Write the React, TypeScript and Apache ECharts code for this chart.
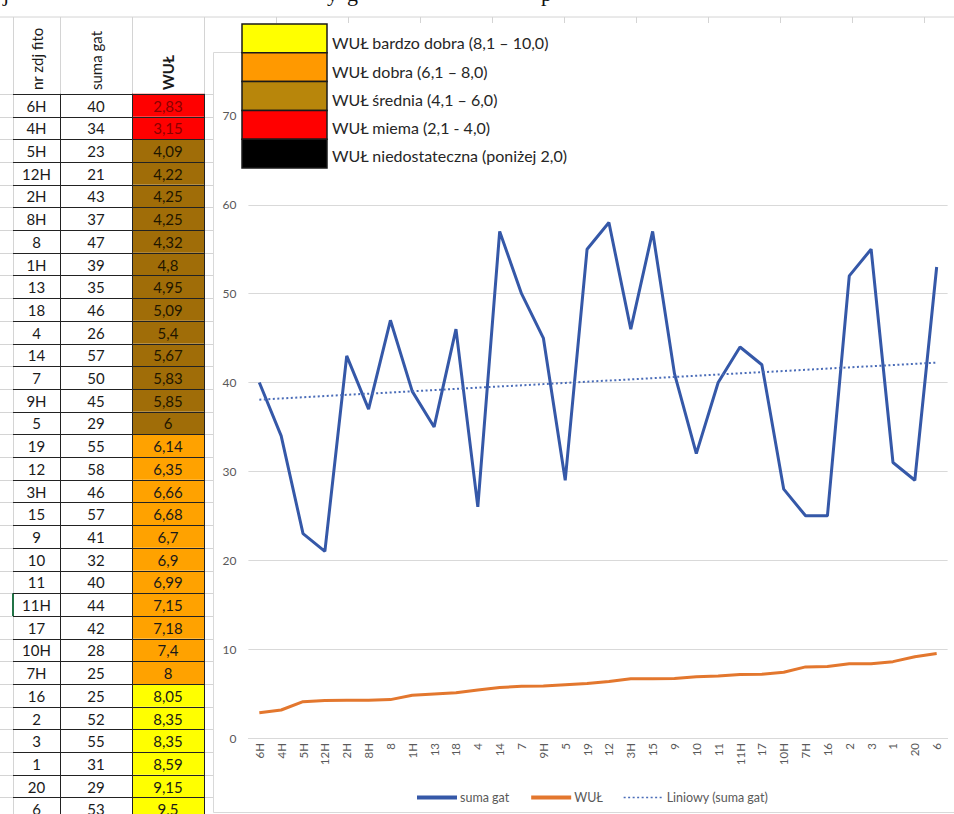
import React, { useEffect, useRef } from "react";
import * as echarts from "echarts";

// ---- data ----
const plotIds = ["6H","4H","5H","12H","2H","8H","8","1H","13","18","4","14","7","9H","5","19","12","3H","15","9","10","11","11H","17","10H","7H","16","2","3","1","20","6"];
const sumaGat = [40,34,23,21,43,37,47,39,35,46,26,57,50,45,29,55,58,46,57,41,32,40,44,42,28,25,25,52,55,31,29,53];
const wul = [2.83,3.15,4.09,4.22,4.25,4.25,4.32,4.8,4.95,5.09,5.4,5.67,5.83,5.85,6,6.14,6.35,6.66,6.68,6.7,6.9,6.99,7.15,7.18,7.4,8,8.05,8.35,8.35,8.59,9.15,9.5];
const tableHeaders = ["nr zdj fito", "suma gat", "WUŁ"];
const seriesNames = ["suma gat", "WUŁ", "Liniowy (suma gat)"];
const classLabels = [
  "WUŁ bardzo dobra (8,1 – 10,0)",
  "WUŁ dobra (6,1 – 8,0)",
  "WUŁ średnia (4,1 – 6,0)",
  "WUŁ miema (2,1 - 4,0)",
  "WUŁ niedostateczna (poniżej 2,0)",
];
const classLowerBounds = [8, 6, 4, 2, -Infinity];
const classColors = ["#FFFF00", "#FF9900", "#B8860B", "#FF0000", "#000000"];
const cellColors = ["#FFFF00", "#FFA200", "#A06D08", "#FF0000", "#000000"];
const cellTextColors = ["#1a1a1a", "#1a1a1a", "#1f1600", "#8B0000", "#ffffff"];
const yMin = 0, yMax = 70, yStep = 10;

const FONT = "Lato, 'Open Sans', sans-serif";

function classOf(v: number) {
  for (let k = 0; k < classLowerBounds.length; k++) if (v > classLowerBounds[k]) return k;
  return classLowerBounds.length - 1;
}
function fmt(v: number) {
  return String(v).replace(".", ",");
}
function linearTrend(ys: number[]) {
  const n = ys.length;
  const xs = ys.map((_, i) => i + 1);
  const mx = xs.reduce((a, b) => a + b, 0) / n;
  const my = ys.reduce((a, b) => a + b, 0) / n;
  let sxy = 0, sxx = 0;
  for (let i = 0; i < n; i++) {
    sxy += (xs[i] - mx) * (ys[i] - my);
    sxx += (xs[i] - mx) * (xs[i] - mx);
  }
  const b = sxy / sxx;
  const a = my - b * mx;
  return xs.map((x) => +(a + b * x).toFixed(3));
}

function buildGraphics() {
  const g: any[] = [];
  const GRID = "#D4D4D4";
  const colX = [13, 60, 132, 204];
  const headTop = 17;
  const bodyTop = 93.8;
  const rowH = 22.7;
  const nRows = plotIds.length;
  const bodyBottom = bodyTop + nRows * rowH;

  // top cut-off serif text (descenders of a document line above the picture)
  const serifBits = [
    { t: "j", x: 3 },
    { t: "y", x: 327 },
    { t: "g", x: 347 },
    { t: "p", x: 541 },
  ];
  serifBits.forEach((s) =>
    g.push({
      type: "text", x: s.x, y: -7, z: 1,
      style: { text: s.t, fontSize: 22, fontFamily: "'Liberation Serif', serif", fill: "#111", align: "left", verticalAlign: "middle" },
    })
  );

  // spreadsheet gridlines
  g.push({ type: "line", shape: { x1: 0, y1: headTop, x2: 954, y2: headTop }, style: { stroke: GRID, lineWidth: 1 } });
  for (let i = 0; i <= nRows; i++) {
    const y = Math.round(bodyTop + i * rowH) + 0.5;
    g.push({ type: "line", shape: { x1: 0, y1: y, x2: 13, y2: y }, style: { stroke: GRID, lineWidth: 1 } });
    g.push({ type: "line", shape: { x1: 204, y1: y, x2: 213, y2: y }, style: { stroke: GRID, lineWidth: 1 } });
  }
  g.push({ type: "line", shape: { x1: 13.5, y1: headTop, x2: 13.5, y2: 814 }, style: { stroke: GRID, lineWidth: 1 } });
  [60, 132].forEach((x) =>
    g.push({ type: "line", shape: { x1: x + 0.5, y1: headTop, x2: x + 0.5, y2: bodyTop }, style: { stroke: GRID, lineWidth: 1 } })
  );
  g.push({ type: "line", shape: { x1: 204.5, y1: headTop, x2: 204.5, y2: bodyTop }, style: { stroke: GRID, lineWidth: 1 } });
  for (let x = 276; x < 954; x += 72) {
    g.push({ type: "line", shape: { x1: x + 0.5, y1: headTop, x2: x + 0.5, y2: 23 }, style: { stroke: GRID, lineWidth: 1 } });
  }
  // green selection marker
  g.push({ type: "rect", shape: { x: 12, y: bodyTop + 22 * rowH, width: 2, height: rowH }, style: { fill: "#217346" } });

  // header texts (rotated)
  const centers = [36.5, 96, 168];
  tableHeaders.forEach((h, i) =>
    g.push({
      type: "text", x: centers[i], y: 90, rotation: Math.PI / 2,
      style: { text: h, fontSize: 15, fontFamily: FONT, fontWeight: i === 2 ? "bold" : "normal", fill: "#1a1a1a", align: "left", verticalAlign: "middle" },
    })
  );

  // body cells
  for (let i = 0; i < nRows; i++) {
    const y = bodyTop + i * rowH;
    const k = classOf(wul[i]);
    g.push({ type: "rect", shape: { x: colX[2], y, width: colX[3] - colX[2], height: rowH }, style: { fill: cellColors[k] } });
    const vals = [plotIds[i], String(sumaGat[i]), fmt(wul[i])];
    vals.forEach((v, c) =>
      g.push({
        type: "text", x: centers[c], y: y + rowH / 2 + 0.5, z: 2,
        style: { text: v, fontSize: 15, fontFamily: FONT, fill: c === 2 ? cellTextColors[k] : "#1a1a1a", align: "center", verticalAlign: "middle" },
      })
    );
  }
  // body borders
  for (let i = 0; i <= nRows; i++) {
    const y = Math.round(bodyTop + i * rowH) + 0.5;
    g.push({ type: "line", z: 3, shape: { x1: 13, y1: y, x2: 204, y2: y }, style: { stroke: "#222", lineWidth: 1 } });
  }
  [60, 132, 204].forEach((x) =>
    g.push({ type: "line", z: 3, shape: { x1: x + 0.5, y1: bodyTop, x2: x + 0.5, y2: bodyBottom }, style: { stroke: "#222", lineWidth: 1 } })
  );

  // chart area border
  g.push({ type: "rect", z: -1, shape: { x: 213.5, y: 52.5, width: 800, height: 760 }, style: { fill: "transparent", stroke: "#D9D9D9", lineWidth: 1 } });

  // pasted classification picture (white background + boxes + labels)
  g.push({ type: "rect", z: 50, shape: { x: 242, y: 23, width: 720, height: 150 }, style: { fill: "#ffffff" } });
  const boxTop = 24, boxH = 28.8;
  classColors.forEach((c, i) => {
    g.push({ type: "rect", z: 51, shape: { x: 242, y: boxTop + i * boxH, width: 85, height: boxH }, style: { fill: c, stroke: "#1a1a1a", lineWidth: 1.5 } });
    g.push({
      type: "text", z: 52, x: 332, y: 42.7 + i * 28.3,
      style: { text: classLabels[i], fontSize: 16, fontFamily: FONT, fill: "#262626", align: "left", verticalAlign: "middle" },
    });
  });
  return g;
}

export default function App() {
  const ref = useRef<HTMLDivElement>(null);
  useEffect(() => {
    if (!ref.current) return;
    const chart = echarts.init(ref.current, undefined, { renderer: "svg" });
    const trend = linearTrend(sumaGat);
    chart.setOption({
      animation: false,
      backgroundColor: "#ffffff",
      textStyle: { fontFamily: FONT },
      grid: { left: 248.4, right: 6.4, top: 115.9, bottom: 76, containLabel: false },
      xAxis: {
        type: "category",
        data: plotIds,
        boundaryGap: true,
        axisLine: { show: true, lineStyle: { color: "#D9D9D9", width: 1 } },
        axisTick: { show: false },
        axisLabel: { interval: 0, rotate: 90, margin: 5, fontSize: 11.5, color: "#595959", fontFamily: FONT },
      },
      yAxis: {
        type: "value",
        min: yMin, max: yMax, interval: yStep,
        axisLine: { show: false },
        axisTick: { show: false },
        axisLabel: { margin: 12, fontSize: 12, color: "#595959", fontFamily: FONT },
        splitLine: { lineStyle: { color: "#D9D9D9", width: 1 } },
      },
      legend: {
        left: 410, top: 786,
        itemWidth: 40, itemHeight: 14, itemGap: 20,
        itemStyle: { color: "transparent", borderColor: "transparent", borderWidth: 0, opacity: 0 },
        textStyle: { fontSize: 12.5, color: "#595959", fontFamily: FONT, padding: [0, 0, 0, -2] },
        data: [
          { name: seriesNames[0], lineStyle: { width: 4 } },
          { name: seriesNames[1], lineStyle: { width: 4 } },
          { name: seriesNames[2], lineStyle: { width: 1.5 } },
        ],
      },
      series: [
        { name: seriesNames[0], type: "line", data: sumaGat, symbol: "none", lineStyle: { color: "#3558A8", width: 3 }, itemStyle: { color: "#3558A8" }, z: 3 },
        { name: seriesNames[1], type: "line", data: wul, symbol: "none", lineStyle: { color: "#E3772E", width: 3 }, itemStyle: { color: "#E3772E" }, z: 3 },
        { name: seriesNames[2], type: "line", data: trend, symbol: "none", lineStyle: { color: "#4A6CB8", width: 2, type: [2, 2.5] }, itemStyle: { color: "#4A6CB8" }, z: 4 },
      ],
      graphic: { elements: buildGraphics() },
    });
    return () => chart.dispose();
  }, []);
  return <div ref={ref} style={{ position: "absolute", left: 0, top: 0, width: 954, height: 814 }} />;
}
